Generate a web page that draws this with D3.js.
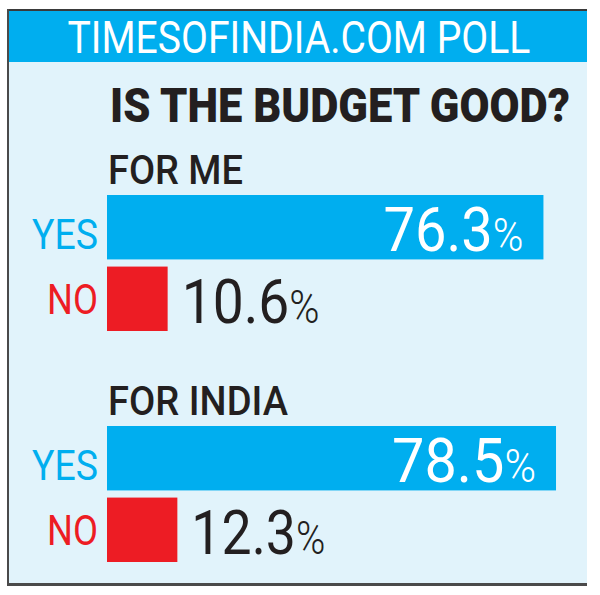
<!DOCTYPE html>
<html>
<head>
<meta charset="utf-8">
<script src="https://cdn.jsdelivr.net/npm/d3@7"></script>
<style>
  html, body { margin: 0; padding: 0; background: #ffffff; }
  svg { display: block; }
  text { font-family: Roboto, "Noto Sans", sans-serif; }
</style>
</head>
<body>
<script>
// ---- data ----
const headerText = "TIMESOFINDIA.COM POLL";
const titleText = "IS THE BUDGET GOOD?";
const groups = ["FOR ME", "FOR INDIA"];
const answers = ["YES", "NO"];
const yesValues = [76.3, 78.5];
const noValues = [10.6, 12.3];

// ---- layout ----
const W = 600, H = 595;
const colors = { YES: "#00aeef", NO: "#ed1c24" };
const dark = "#231f20";
const svg = d3.select("body").append("svg").attr("width", W).attr("height", H);

// place a text horizontally condensed to a target width
function fitText(x, y, width, anchor, build) {
  const g = svg.append("g");
  const t = g.append("text").attr("x", 0).attr("y", 0);
  build(t);
  const natural = t.node().getComputedTextLength();
  const s = Math.min(1.2, width / natural);
  let x0 = x;
  if (anchor === "end") x0 = x - width;
  else if (anchor === "middle") x0 = x - width / 2;
  g.attr("transform", `translate(${x0},${y}) scale(${s},1)`);
  return g;
}

// panel
svg.append("rect").attr("x", 8).attr("y", 10).attr("width", 579).attr("height", 574).attr("fill", "#e1f3fb");
svg.append("rect").attr("x", 8).attr("y", 10).attr("width", 579).attr("height", 52).attr("fill", "#00aeef");
// borders
svg.append("rect").attr("x", 7).attr("y", 9).attr("width", 580).attr("height", 2).attr("fill", "#3a3a3a");
svg.append("rect").attr("x", 7).attr("y", 9).attr("width", 2).attr("height", 577).attr("fill", "#4a4a4a");
svg.append("rect").attr("x", 7).attr("y", 583).attr("width", 580).attr("height", 3).attr("fill", "#4a4a4a");

// header
fitText(299, 53, 463, "middle", t => t.attr("font-size", 44).attr("fill", "#ffffff").text(headerText));

// title
fitText(110, 122, 460, "start", t => t.attr("font-size", 49).attr("font-weight", 900).attr("fill", dark).text(titleText));

// scales
const x = d3.scaleLinear().domain([0, 100]).range([107, 679]);
const gy = d3.scalePoint().domain(groups).range([195, 426]);
const iy = d3.scaleBand().domain(answers).range([0, 136]).paddingInner(0.1);

const groupWidths = { "FOR ME": 135, "FOR INDIA": 180 };
const labelWidths = { YES: 66, NO: 51 };
const valueWidths = { YES: [140, 144], NO: [138, 134] };

groups.forEach((g, gi) => {
  const top = gy(g);
  fitText(108, top - 11, groupWidths[g], "start",
    t => t.attr("font-size", 41).attr("font-weight", 500).attr("fill", dark).text(g));

  const rows = [
    { a: "YES", v: yesValues[gi] },
    { a: "NO", v: noValues[gi] }
  ];
  rows.forEach(r => {
    const y0 = top + iy(r.a);
    const bw = iy.bandwidth();
    svg.append("rect").attr("x", x(0)).attr("y", y0)
      .attr("width", x(r.v) - x(0)).attr("height", bw)
      .attr("fill", colors[r.a]);

    // category label
    fitText(98, y0 + (r.a === "YES" ? 54 : 47), labelWidths[r.a], "end",
      t => t.attr("font-size", 42).attr("fill", colors[r.a]).text(r.a));

    // value label
    const inside = r.a === "YES";
    fitText(inside ? x(r.v) - 20 : x(r.v) + 14, y0 + 56, valueWidths[r.a][gi],
      inside ? "end" : "start", t => {
        t.attr("font-size", 62).attr("fill", inside ? "#ffffff" : dark);
        t.append("tspan").text(d3.format(".1f")(r.v));
        t.append("tspan").attr("font-size", 46).attr("font-weight", 300).text("%");
      });
  });
});
</script>
</body>
</html>
